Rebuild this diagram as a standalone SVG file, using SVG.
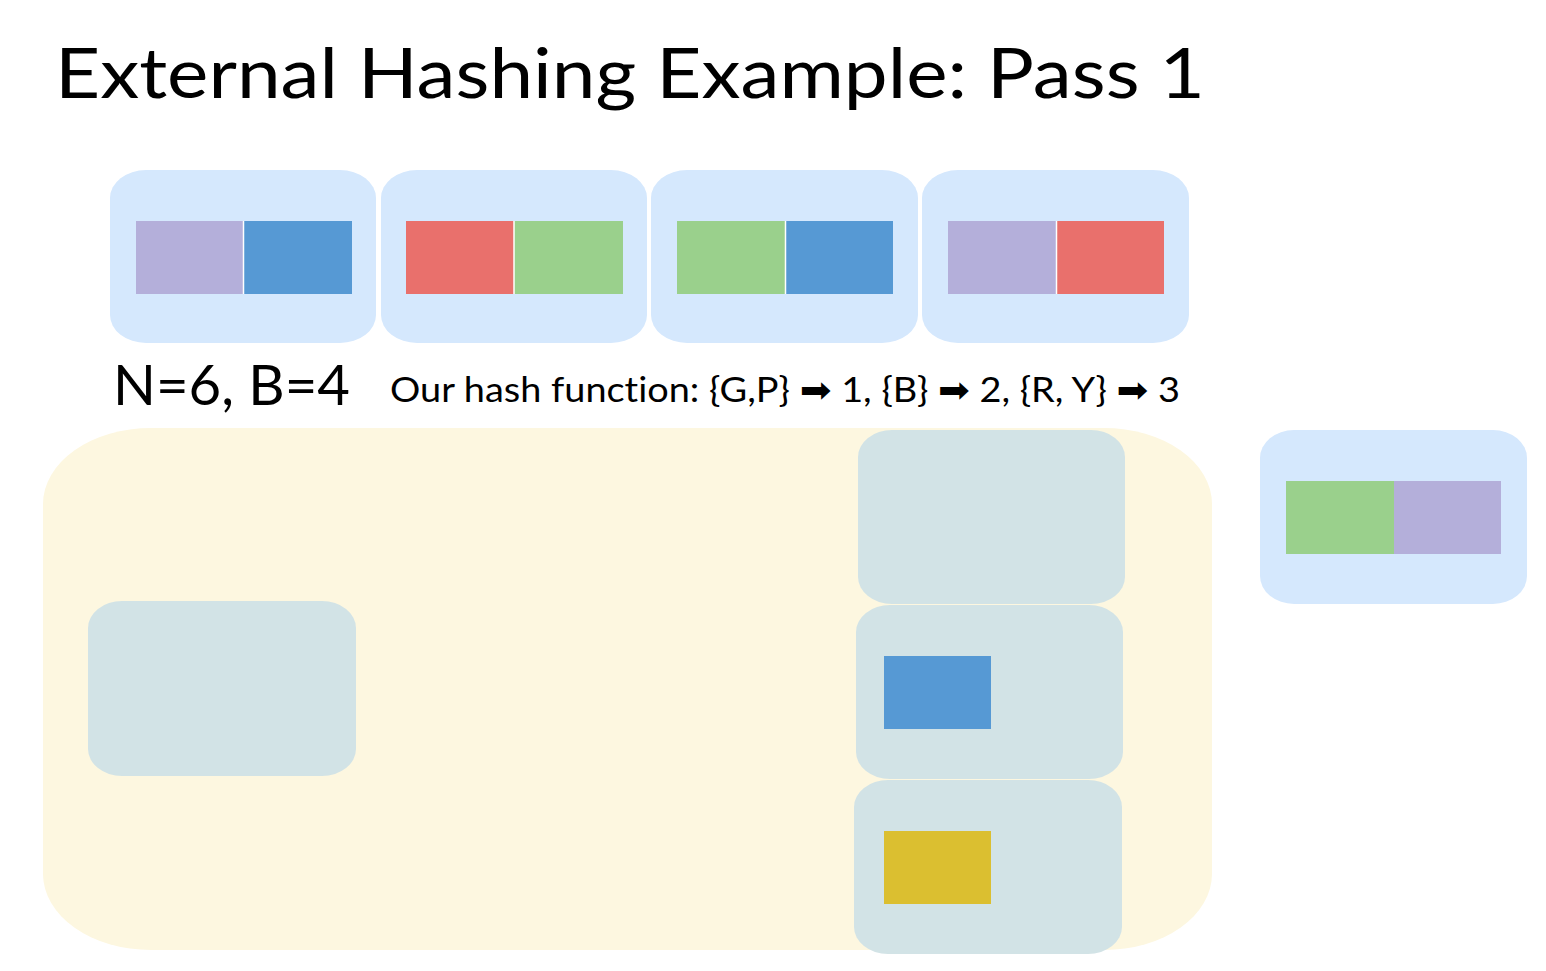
<svg xmlns="http://www.w3.org/2000/svg" width="1546" height="971" viewBox="0 0 1546 971">
<style>
.page{fill:#d5e8fd}
.buf{fill:#d2e3e6}
.mem{fill:#fdf7e0}
.P{fill:#b4afda}.B{fill:#5699d4}.R{fill:#e9706c}.G{fill:#9ad08c}.Y{fill:#dbbf30}
.sep{stroke:#ffffff;stroke-width:1.5}
text{font-family:"Lato","Liberation Sans",sans-serif;fill:#000;font-variant-ligatures:none}
.arr{font-family:"DejaVu Sans",sans-serif}
</style>
<rect width="1546" height="971" fill="#ffffff"/>
<text x="55" y="98" font-size="70" textLength="1150" lengthAdjust="spacingAndGlyphs">External Hashing Example: Pass 1</text>

<g id="input-page-1"><rect class="page" x="110" y="170" width="266" height="173" rx="36" ry="28"/><rect class="P" x="136" y="221" width="108" height="73"/><rect class="B" x="244" y="221" width="108" height="73"/><line class="sep" x1="243.5" y1="221" x2="243.5" y2="294"/></g>
<g id="input-page-2"><rect class="page" x="381" y="170" width="266" height="173" rx="36" ry="28"/><rect class="R" x="406" y="221" width="108" height="73"/><rect class="G" x="514" y="221" width="109" height="73"/><line class="sep" x1="514" y1="221" x2="514" y2="294"/></g>
<g id="input-page-3"><rect class="page" x="651" y="170" width="267" height="173" rx="36" ry="28"/><rect class="G" x="677" y="221" width="108" height="73"/><rect class="B" x="785" y="221" width="108" height="73"/><line class="sep" x1="785.5" y1="221" x2="785.5" y2="294"/></g>
<g id="input-page-4"><rect class="page" x="922" y="170" width="267" height="173" rx="36" ry="28"/><rect class="P" x="948" y="221" width="108" height="73"/><rect class="R" x="1056" y="221" width="108" height="73"/><line class="sep" x1="1056.5" y1="221" x2="1056.5" y2="294"/></g>

<text x="113" y="405" font-size="56" textLength="237" lengthAdjust="spacingAndGlyphs">N=6, B=4</text>
<text x="390" y="402" font-size="35" textLength="790" lengthAdjust="spacingAndGlyphs">Our hash function: {G,P} <tspan class="arr">➡</tspan> 1, {B} <tspan class="arr">➡</tspan> 2, {R, Y} <tspan class="arr">➡</tspan> 3</text>

<g id="memory"><rect class="mem" x="43" y="428" width="1169" height="522" rx="108" ry="76"/></g>
<g id="input-buffer"><rect class="buf" x="88" y="601" width="268" height="175" rx="34" ry="27"/></g>
<g id="output-buffer-1"><rect class="buf" x="858" y="430" width="267" height="174" rx="34" ry="27"/></g>
<g id="output-buffer-2"><rect class="buf" x="856" y="605" width="267" height="174" rx="34" ry="27"/><rect class="B" x="884" y="656" width="107" height="73"/></g>
<g id="output-buffer-3"><rect class="buf" x="854" y="780" width="268" height="174" rx="34" ry="27"/><rect class="Y" x="884" y="831" width="107" height="73"/></g>

<g id="output-page"><rect class="page" x="1260" y="430" width="267" height="174" rx="34" ry="28"/><rect class="G" x="1286" y="481" width="108" height="73"/><rect class="P" x="1394" y="481" width="107" height="73"/></g>
<g id="connectors"></g>
</svg>
